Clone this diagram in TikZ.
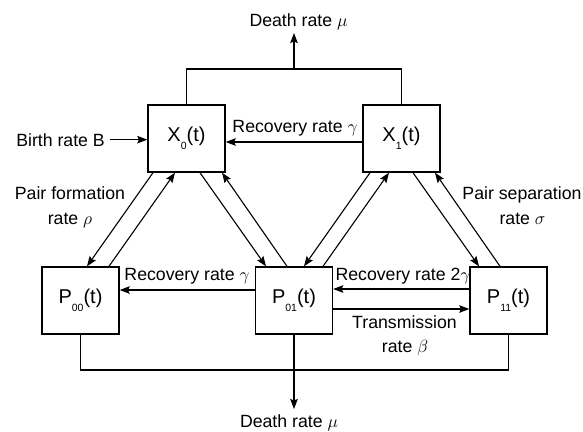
\documentclass[tikz,border=0pt]{standalone}
\usepackage{fix-cm}
\usepackage{fontspec}
\setmainfont{Liberation Sans}
\usetikzlibrary{arrows.meta}
\newcommand\lowsub[1]{\raisebox{-8pt}{\fontsize{10.5}{10.5}\selectfont #1}}
\begin{document}
\begin{tikzpicture}[x=1pt,y=-1pt,
  box/.style={draw,line width=1.4pt,minimum width=77pt,minimum height=67pt,inner sep=0pt,font=\fontsize{20}{24}\selectfont},
  lbl/.style={inner sep=0pt,font=\fontsize{17.7}{21}\selectfont},
  conn/.style={line width=1.1pt},
  arr/.style={conn,-{Stealth[length=10pt,width=7.5pt,inset=1.5pt]}}]
\useasboundingbox[fill=white] (0,0) rectangle (583,431);
% boxes
\node[box] (X0) at (186.5,138.5) {X\lowsub{0}(t)};
\node[box] (X1) at (401.5,138.5) {X\lowsub{1}(t)};
\node[box] (P00) at (80.5,300.5) {P\lowsub{00}(t)};
\node[box] (P01) at (294,300.5) {P\lowsub{01}(t)};
\node[box] (P11) at (508.5,300.5) {P\lowsub{11}(t)};
% top death
\coordinate (tj) at (294,69);
\coordinate (tu) at (294,33);
\draw[conn] (X0.north) -- (X0.north |- tj) -- (X1.north |- tj) -- (X1.north);
\draw[arr] (tj) -- (tu);
\node[lbl,anchor=base] (dtop) at (298.5,27) {Death rate $\mu$};
% bottom death
\coordinate (bj) at (294,370);
\coordinate (bd) at (294,409);
\draw[conn] (P00.south) -- (P00.south |- bj) -- (P11.south |- bj) -- (P11.south);
\draw[arr] (P01.south) -- (bd);
\node[lbl,anchor=base] (dbot) at (289,427) {Death rate $\mu$};
% birth
\node[lbl,anchor=base east] (birth) at (105,146) {Birth rate B};
\draw[arr] ([xshift=5pt]birth.east) -- (X0.west |- birth.east);
% recovery top
\draw[arr] ([yshift=-3.5pt]X1.west) -- ([yshift=-3.5pt]X0.east);
\node[lbl,anchor=base] (rtop) at (295,132) {Recovery rate $\gamma$};
% diagonals X0-P00
\draw[arr] ([xshift=-33.5pt]X0.south) -- ([xshift=6.5pt]P00.north);
\draw[arr] ([xshift=28.5pt]P00.north) -- ([xshift=-11.5pt]X0.south);
% X0-P01
\draw[arr] ([xshift=13.5pt]X0.south) -- ([xshift=-28pt]P01.north);
\draw[arr] ([xshift=-7pt]P01.north) -- ([xshift=35.5pt]X0.south);
% X1-P01
\draw[arr] ([xshift=-31.5pt]X1.south) -- ([xshift=10pt]P01.north);
\draw[arr] ([xshift=29pt]P01.north) -- ([xshift=-12.5pt]X1.south);
% X1-P11
\draw[arr] ([xshift=11.5pt]X1.south) -- ([xshift=-29.5pt]P11.north);
\draw[arr] ([xshift=-8.5pt]P11.north) -- ([xshift=33.5pt]X1.south);
% bottom horizontal arrows
\draw[arr] ([yshift=10.5pt]P01.west) -- ([yshift=10.5pt]P00.east);
\node[lbl,anchor=base] (rb1) at (187,280) {Recovery rate $\gamma$};
\draw[arr] ([yshift=11.5pt]P11.west) -- ([yshift=11.5pt]P01.east);
\node[lbl,anchor=base] (rb2) at (403,280) {Recovery rate 2$\gamma$};
\draw[arr] ([yshift=-8.5pt]P01.east) -- ([yshift=-8.5pt]P11.west);
\node[lbl,anchor=base] (tr1) at (404.5,328) {Transmission};
\node[lbl,anchor=base] (tr2) at (405,352) {rate $\beta$};
% pair labels
\node[lbl,anchor=base] (pf1) at (70,199) {Pair formation};
\node[lbl,anchor=base] (pf2) at (70,224) {rate $\rho$};
\node[lbl,anchor=base] (ps1) at (522,199) {Pair separation};
\node[lbl,anchor=base] (ps2) at (522.5,224) {rate $\sigma$};
\end{tikzpicture}
\end{document}
